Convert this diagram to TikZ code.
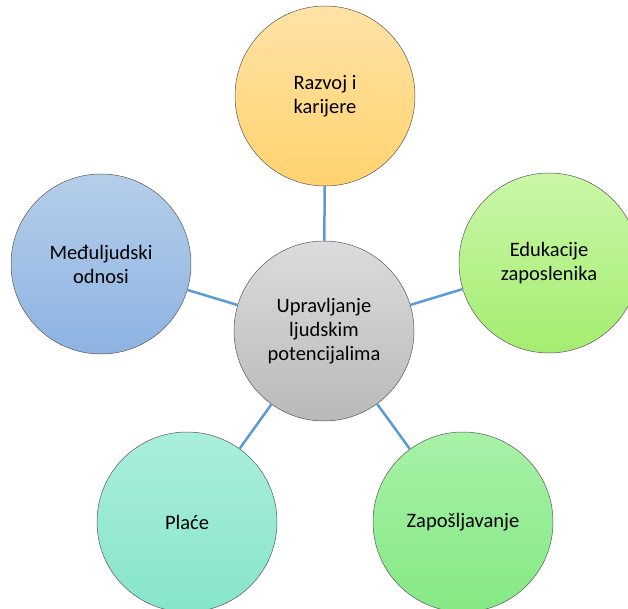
\documentclass[tikz,border=0pt]{standalone}
\usepackage{fontspec}
\setmainfont{Carlito}
\usepackage{xcolor}
\definecolor{colorLink}{HTML}{5B9BD5}
\definecolor{colorCentreTop}{HTML}{DCDCDC}
\definecolor{colorCentreBot}{HTML}{B9B9B9}
\definecolor{colorOrangeTop}{HTML}{FFE2A6}
\definecolor{colorOrangeBot}{HTML}{FFD36E}
\definecolor{colorLimeTop}{HTML}{CAF7A8}
\definecolor{colorLimeBot}{HTML}{A4ED70}
\definecolor{colorGreenTop}{HTML}{A8F1A8}
\definecolor{colorGreenBot}{HTML}{84E984}
\definecolor{colorAquaTop}{HTML}{AAEEDC}
\definecolor{colorAquaBot}{HTML}{86E5CA}
\definecolor{colorBlueTop}{HTML}{B5CEEA}
\definecolor{colorBlueBot}{HTML}{8DB3E2}
\usepackage{tikz}
\usetikzlibrary{positioning}
\tikzset{topic/.style={circle, draw=black!65, line width=0.5pt, minimum size=180pt, inner sep=0pt, align=center, font=\fontsize{20.5}{24}\selectfont}}

\begin{document}
\begin{tikzpicture}[x=1pt, y=-1pt, link/.style={colorLink, line width=2.5pt}]
\useasboundingbox (0,0) rectangle (628,609);
\clip (0,0) rectangle (628,609);
\node[topic, top color=colorCentreTop, bottom color=colorCentreBot] (p0) at (324,331) {Upravljanje\\ljudskim\\potencijalima};
\node[topic, top color=colorOrangeTop, bottom color=colorOrangeBot] (p1) at (325,96) {Razvoj i\\karijere};
\node[topic, top color=colorLimeTop, bottom color=colorLimeBot] (p2) at (549,263) {Edukacije\\zaposlenika};
\node[topic, top color=colorGreenTop, bottom color=colorGreenBot] (p3) at (463,522) {Zapošljavanje};
\node[topic, top color=colorAquaTop, bottom color=colorAquaBot] (p4) at (187,522) {Plaće};
\node[topic, top color=colorBlueTop, bottom color=colorBlueBot] (p5) at (101,264) {Međuljudski\\odnosi};
\draw [link] (p0) -- (p1);
\draw [link] (p0) -- (p2);
\draw [link] (p0) -- (p3);
\draw [link] (p0) -- (p4);
\draw [link] (p0) -- (p5);
\end{tikzpicture}
\end{document}
